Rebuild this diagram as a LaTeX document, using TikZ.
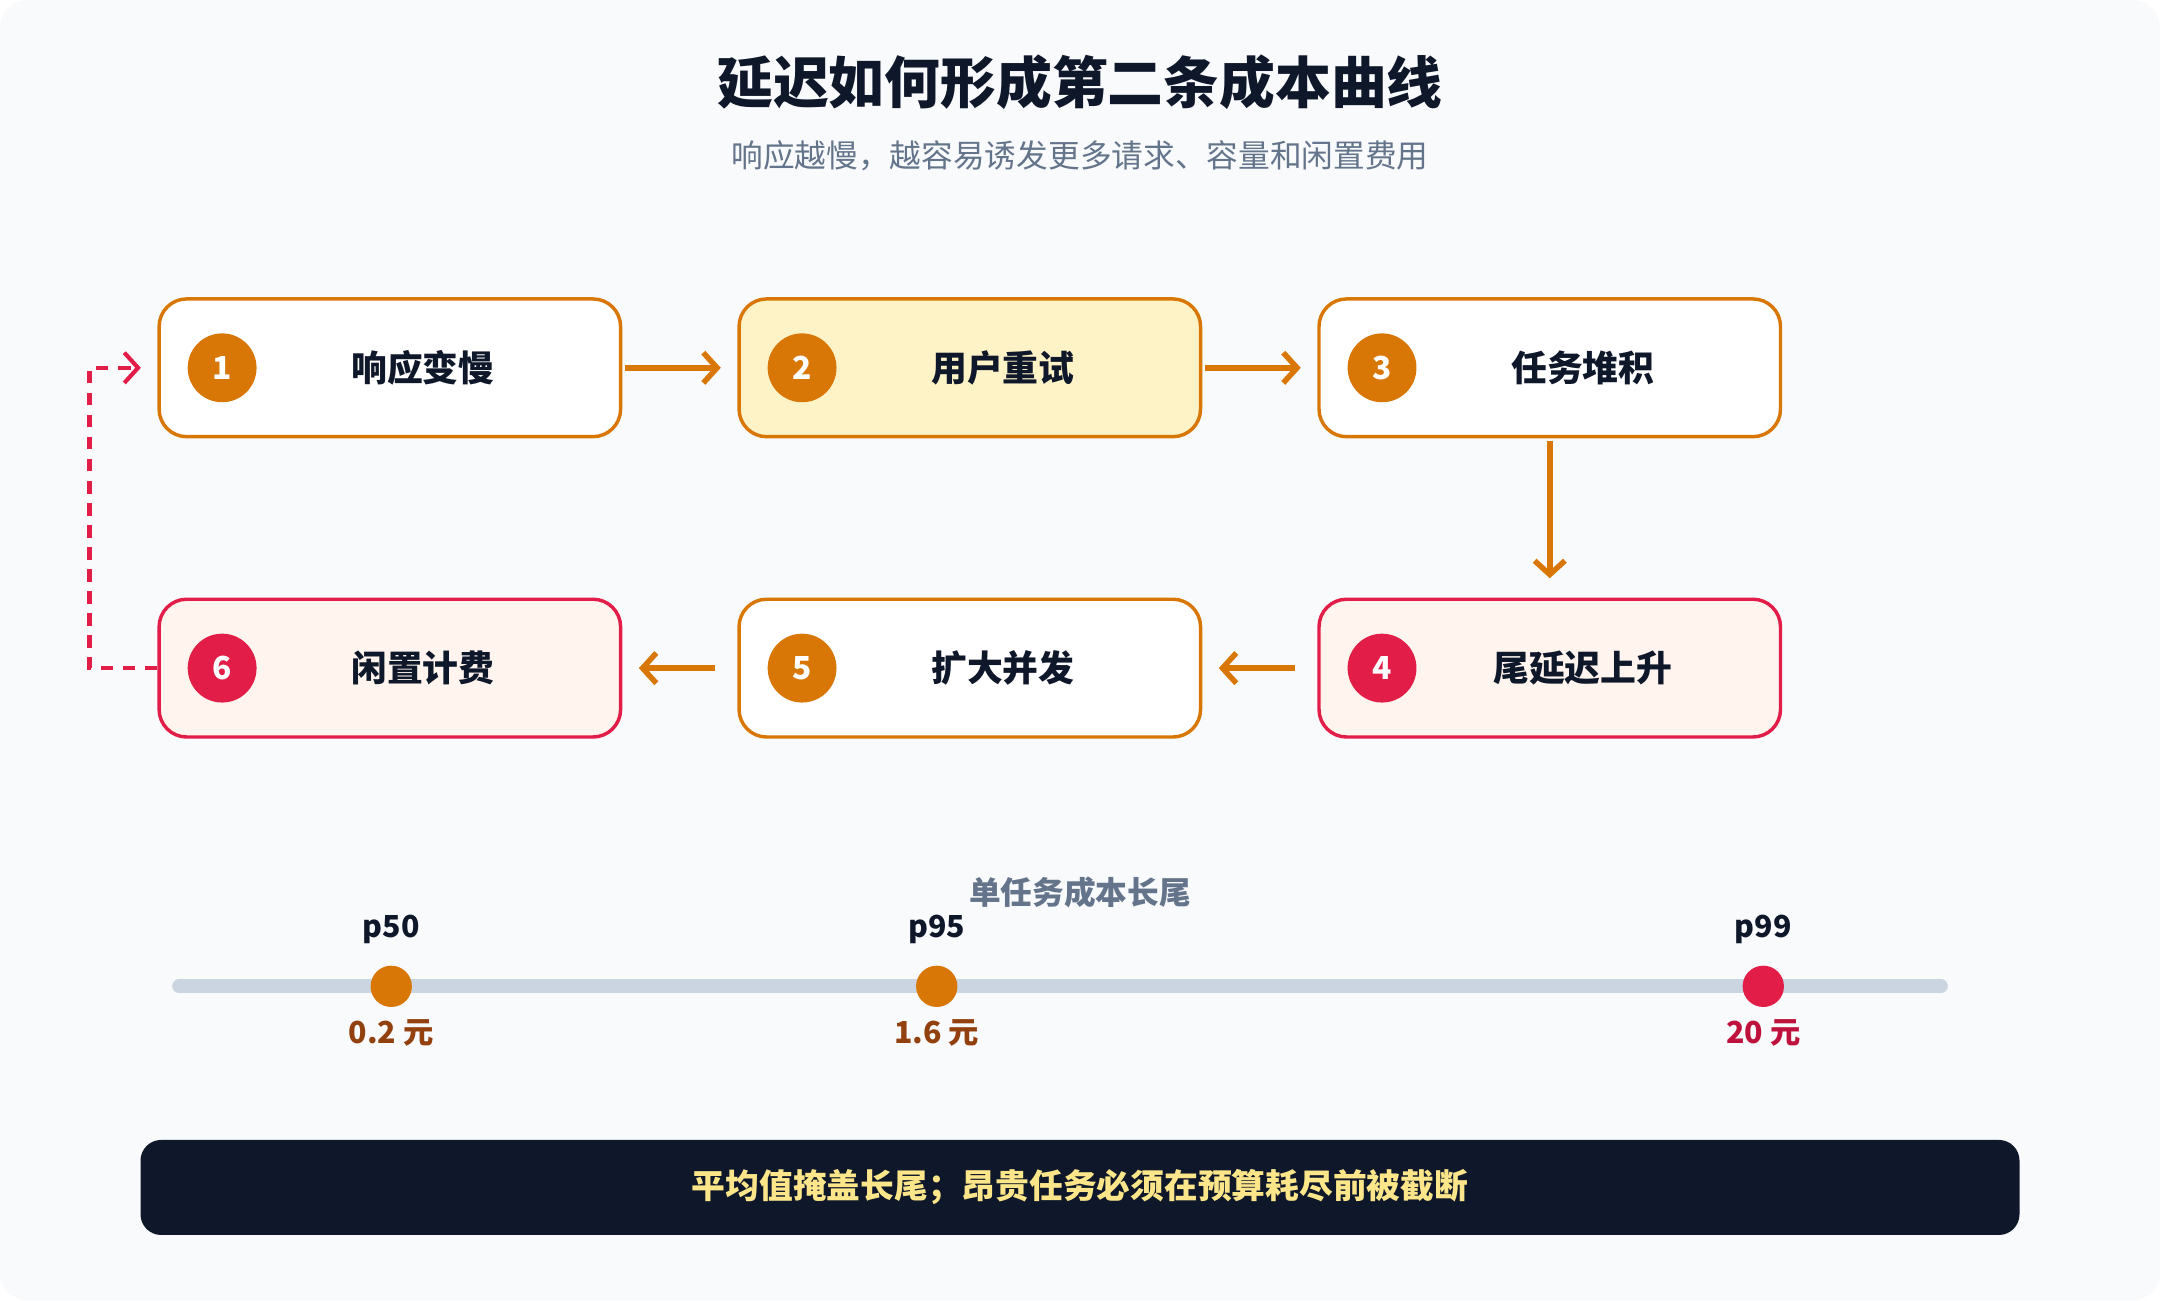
\documentclass[tikz,border=0pt]{standalone}
\usepackage{fontspec}
\setmainfont{Noto Sans CJK SC}
\usetikzlibrary{arrows.meta}
\definecolor{bgc}{HTML}{F8FAFC}
\definecolor{org}{HTML}{D97706}
\definecolor{rd}{HTML}{E11D48}
\definecolor{ink}{HTML}{0F172A}
\definecolor{gry}{HTML}{64748B}
\definecolor{ylw}{HTML}{FEF3C7}
\definecolor{crm}{HTML}{FFF5EE}
\definecolor{trk}{HTML}{CBD5E1}
\definecolor{brn}{HTML}{92400E}
\definecolor{dred}{HTML}{BE123C}
\definecolor{gold}{HTML}{FDE68A}
\tikzset{
  step/.style={draw=#1, line width=2.5pt, rounded corners=20pt, minimum width=335pt, minimum height=100pt},
  num/.style={circle, fill=#1, minimum size=50pt, inner sep=0pt, text=white, font=\fontsize{23}{23}\selectfont\bfseries},
  lbl/.style={text=ink, font=\fontsize{26}{26}\selectfont\bfseries},
  flow/.style={org, line width=4pt, -{Straight Barb[length=10pt,width=22pt,line width=4pt]}},
  dot/.style={circle, fill=#1, minimum size=30pt, inner sep=0pt},
}
\begin{document}
\begin{tikzpicture}[x=1pt,y=-1pt]
    \useasboundingbox (0,0) rectangle (1568,944);
    \fill[bgc, rounded corners=20pt] (0,0) rectangle (1568,944);
    \node[text=ink, font=\fontsize{40.5}{40.5}\selectfont\bfseries] (title) at (784,60) {延迟如何形成第二条成本曲线};
    \node[text=gry, font=\fontsize{23}{23}\selectfont] (sub) at (784,113) {响应越慢，越容易诱发更多请求、容量和闲置费用};
    % steps
    \node[step=org, fill=white] (s1) at (283,267) {};
    \node[step=org, fill=ylw] (s2) at (704,267) {};
    \node[step=org, fill=white] (s3) at (1125,267) {};
    \node[step=rd, fill=crm] (s4) at (1125,485) {};
    \node[step=org, fill=white] (s5) at (704,485) {};
    \node[step=rd, fill=crm] (s6) at (283,485) {};
    \foreach \s/\n/\c/\t in {s1/1/org/响应变慢, s2/2/org/用户重试, s3/3/org/任务堆积, s4/4/rd/尾延迟上升, s5/5/org/扩大并发, s6/6/rd/闲置计费}{
        \node[num=\c] (\s n) at ([xshift=47pt]\s.west) {\n};
        \node[lbl] (\s t) at ([xshift=24pt]\s.center) {\t};
    }
    \draw[flow] ([xshift=2pt]s1.east) -- ([xshift=-12pt]s2.west);
    \draw[flow] ([xshift=2pt]s2.east) -- ([xshift=-12pt]s3.west);
    \draw[flow] ([yshift=-2pt]s3.south) -- ([yshift=14pt]s4.north);
    \draw[flow] ([xshift=-16pt]s4.west) -- ([xshift=12pt]s5.east);
    \draw[flow] ([xshift=-16pt]s5.west) -- ([xshift=12pt]s6.east);
    \coordinate (r1) at (65,485);
    \coordinate (r2) at (65,267);
    \draw[rd, line width=3pt, dash pattern=on 9pt off 7pt, -{Straight Barb[length=10pt,width=22pt,line width=3pt]}] (s6.west) -- (r1) -- (r2) -- ([xshift=-12pt]s1.west);
    % timeline
    \node[text=gry, font=\fontsize{23}{23}\selectfont\bfseries] (tl) at (784,648) {单任务成本长尾};
    \coordinate (t0) at (130,716);
    \coordinate (t1) at (1409,716);
    \draw[trk, line width=10pt, line cap=round] (t0) -- (t1);
    \foreach \x/\p/\v/\c/\d in {284/p50/0.2 元/org/brn, 680/p95/1.6 元/org/brn, 1280/p99/20 元/rd/dred}{
        \node[dot=\c] (d\p) at (\x,716) {};
        \node[text=ink, font=\fontsize{22}{22}\selectfont\bfseries] at (\x,675) {\p};
        \node[text=\d, font=\fontsize{22}{22}\selectfont\bfseries] at (\x,750) {\v};
    }
    % bottom bar
    \node[fill=ink, rounded corners=15pt, minimum width=1364pt, minimum height=69pt, text=gold, font=\fontsize{24.5}{24.5}\selectfont\bfseries] (bar) at (784,862) {平均值掩盖长尾；昂贵任务必须在预算耗尽前被截断};
\end{tikzpicture}
\end{document}
